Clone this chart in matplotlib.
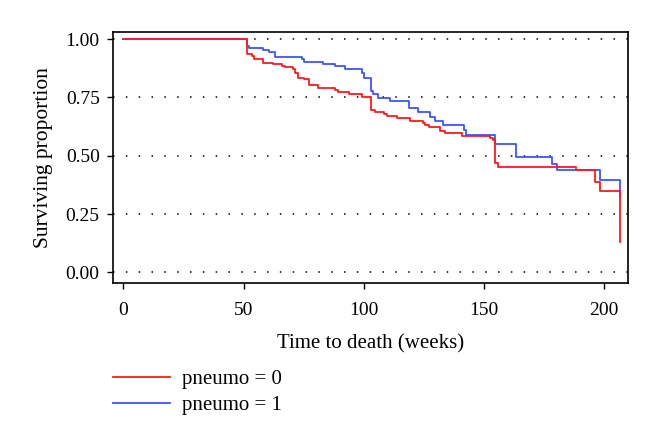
import matplotlib
matplotlib.use("Agg")
import matplotlib.pyplot as plt

plt.rcParams['font.family'] = ['Liberation Serif', 'DejaVu Serif']

# Kaplan-Meier estimates (weeks, surviving proportion)
t_pneumo0 = [0, 51.5, 53.4, 54.4, 58.3, 62.4, 65.9, 67.3, 70.5, 71.5, 72.6, 75.2, 77.3,
             81.2, 88.1, 89.5, 94.1, 99.4, 103.0, 104.9, 108.3, 109.7, 113.8, 119.1,
             124.9, 125.6, 127.4, 131.9, 134.0, 140.9, 152.7, 153.8, 154.8, 155.8,
             188.3, 196.5, 198.5, 206.6]
s_pneumo0 = [1.0, 0.936, 0.928, 0.914, 0.897, 0.893, 0.887, 0.881, 0.871, 0.854, 0.835, 0.829, 0.804,
             0.790, 0.783, 0.773, 0.764, 0.752, 0.697, 0.688, 0.679, 0.672, 0.662, 0.650,
             0.640, 0.633, 0.623, 0.607, 0.597, 0.586, 0.576, 0.566, 0.468, 0.454,
             0.440, 0.387, 0.351, 0.128]

t_pneumo1 = [0, 51.5, 52.2, 58.3, 60.4, 63.2, 74.3, 75.2, 83.0, 88.1, 92.2, 99.2, 100.2,
             103.1, 103.8, 105.8, 110.9, 118.9, 122.8, 127.6, 129.7, 132.9, 141.9, 142.7,
             154.8, 163.4, 178.4, 180.5, 198.5, 206.6]
s_pneumo1 = [1.0, 0.971, 0.961, 0.954, 0.944, 0.925, 0.914, 0.904, 0.895, 0.883, 0.871, 0.857, 0.835,
             0.776, 0.763, 0.749, 0.735, 0.704, 0.687, 0.668, 0.651, 0.631, 0.611, 0.590,
             0.550, 0.495, 0.466, 0.437, 0.396, 0.317]

x_ticks = [0, 50, 100, 150, 200]
y_ticks = [0.0, 0.25, 0.5, 0.75, 1.0]

fig = plt.figure(figsize=(6.6, 4.44), dpi=100)
ax = fig.add_axes([0.171, 0.363, 0.781, 0.566])

# dotted reference lines
for yv in y_ticks:
    ax.axhline(yv, color='black', linewidth=1.1, linestyle=(0, (1, 7.4)), zorder=1)

ax.step(t_pneumo0, s_pneumo0, where='post', color='#ff1a1a', linewidth=1.3, label='pneumo = 0', zorder=3)
ax.step(t_pneumo1, s_pneumo1, where='post', color='#3d55ff', linewidth=1.3, label='pneumo = 1', zorder=2)

ax.set_xlim(-4.4, 210.2)
ax.set_ylim(-0.045, 1.033)
ax.set_xticks(x_ticks)
ax.set_yticks(y_ticks)
ax.set_yticklabels(['%.2f' % v for v in y_ticks])
ax.tick_params(axis='both', direction='out', length=4.5, width=1, labelsize=14, colors='black')
ax.tick_params(axis='x', pad=9)
ax.tick_params(axis='y', pad=5)
for sp in ax.spines.values():
    sp.set_linewidth(1.2)
    sp.set_color('black')

ax.set_xlabel('Time to death (weeks)', fontsize=15, labelpad=11)
ax.set_ylabel('Surviving proportion', fontsize=15.5, labelpad=9)

fig.legend(loc='upper left', bbox_to_anchor=(0.171, 0.168), frameon=False,
           fontsize=15, handlelength=2.75, handletextpad=0.55, labelspacing=0.3,
           borderpad=0, borderaxespad=0)

fig.savefig('out.png', dpi=100)
